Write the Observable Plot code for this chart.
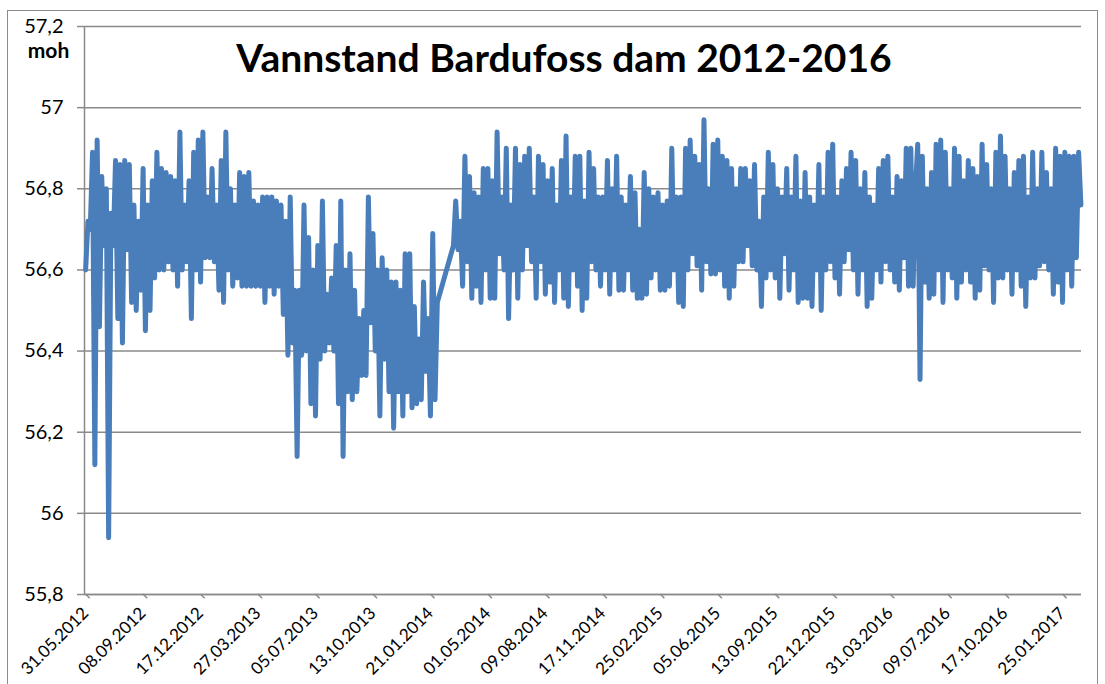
<!DOCTYPE html>
<html><head><meta charset="utf-8">
<script src="https://cdn.jsdelivr.net/npm/d3@7"></script>
<script src="https://cdn.jsdelivr.net/npm/@observablehq/plot@0.6"></script>
<style>
body{margin:0;background:#fff;}
#wrap{position:relative;width:1105px;height:684px;overflow:hidden;}
#frame{position:absolute;left:7px;top:10px;width:1089px;height:700px;border:1.5px solid #8c8c8c;}
#chart{position:absolute;left:0;top:0;}
</style></head><body>
<div id="wrap"><div id="frame"></div><div id="chart"></div></div>
<script>
// ---- data (water level, m o.h., one reading every 4 days) ----
const title = "Vannstand Bardufoss dam 2012-2016";
const unitLabel = "moh";
const stepDays = 4;
const startBeforeGap = "02.06.2012";
const levels2012 = [
 56.60,56.72,56.70,56.89,56.12,56.92,56.46,56.83,56.66,56.80,
 55.94,56.74,56.66,56.87,56.48,56.86,56.42,56.87,56.65,56.86,
 56.52,56.76,56.50,56.72,56.55,56.85,56.45,56.76,56.50,56.82,
 56.58,56.89,56.60,56.85,56.60,56.84,56.62,56.83,56.60,56.82,
 56.56,56.94,56.60,56.76,56.62,56.82,56.48,56.89,56.60,56.92,
 56.57,56.94,56.63,56.78,56.63,56.85,56.62,56.76,56.55,56.87,
 56.52,56.94,56.60,56.80,56.56,56.76,56.58,56.84,56.56,56.83];
const levels2013 = [
 56.56,56.84,56.56,56.77,56.56,56.76,56.56,56.78,56.52,56.78,
 56.56,56.78,56.54,56.77,56.56,56.76,56.49,56.72,56.39,56.78,
 56.42,56.55,56.14,56.55,56.39,56.76,56.40,56.68,56.27,56.60,
 56.24,56.66,56.38,56.77,56.40,56.54,56.42,56.58,56.40,56.66,
 56.27,56.77,56.14,56.60,56.30,56.64,56.28,56.55,56.30,56.48,
 56.34,56.50,56.34,56.78,56.47,56.69,56.40,56.60,56.24,56.63,
 56.38,56.60,56.30,56.57,56.21,56.57,56.30,56.55,56.24,56.64,
 56.30,56.64,56.26,56.51,56.27,56.43,56.28,56.57,56.35,56.48,
 56.24,56.69,56.28,56.52];
const startAfterGap = "04.03.2014";
const levels2014_15 = [
 56.66,56.77,56.65,56.72,56.56,56.88,56.62,56.83,56.53,56.79,
 56.56,56.78,56.52,56.85,56.60,56.85,56.53,56.82,56.53,56.94,
 56.64,56.78,56.60,56.90,56.48,56.76,56.60,56.90,56.53,56.86,
 56.60,56.88,56.66,56.90,56.62,56.78,56.53,56.88,56.62,56.86,
 56.54,56.82,56.57,56.85,56.52,56.76,56.60,56.87,56.53,56.93,
 56.51,56.78,56.60,56.88,56.56,56.88,56.50,56.77,56.53,56.89,
 56.62,56.85,56.60,56.78,56.56,56.78,56.60,56.87,56.54,56.80,
 56.60,56.88,56.55,56.78,56.55,56.76,56.60,56.83,56.55,56.79,
 56.53,56.70,56.53,56.84,56.54,56.80,56.58,56.78,56.60,56.79,
 56.55,56.76,56.55,56.77,56.56,56.90,56.60,56.78,56.52,56.78,
 56.51,56.90,56.60,56.92,56.64,56.88,56.61,56.86,56.55,56.97,
 56.62,56.80,56.59,56.91,56.59,56.92,56.60,56.88,56.56,56.87,
 56.53,56.85,56.56,56.80,56.62,56.85,56.62,56.85];
const levels2016_17 = [
 56.66,56.82,56.61,56.86,56.60,56.72,56.51,56.78,56.58,56.89,
 56.60,56.86,56.58,56.80,56.53,56.78,56.64,56.85,56.55,56.78,
 56.60,56.88,56.52,56.77,56.53,56.84,56.53,56.78,56.51,56.76,
 56.60,56.86,56.50,56.78,56.60,56.89,56.62,56.91,56.58,56.78,
 56.54,56.82,56.62,56.85,56.65,56.89,56.60,56.87,56.54,56.80,
 56.60,56.84,56.51,56.78,56.53,56.76,56.60,56.85,56.57,56.87,
 56.62,56.88,56.60,56.78,56.57,56.83,56.55,56.82,56.63,56.90,
 56.56,56.90,56.56,56.80,56.91,
 56.33,56.88,56.57,56.80,56.53,56.84,56.54,56.91,56.60,56.92,
 56.52,56.89,56.60,56.80,56.58,56.90,56.53,56.88,56.57,56.82,
 56.60,56.87,56.57,56.85,56.53,56.83,56.55,56.91,56.61,56.86,
 56.60,56.80,56.52,56.89,56.58,56.93,56.58,56.88,56.60,56.80,
 56.54,56.84,56.60,56.87,56.56,56.88,56.51,56.78,56.58,56.89,
 56.58,56.80,56.61,56.89,56.62,56.84,56.60,56.80,56.54,56.90,
 56.57,56.88,56.52,56.89,56.60,56.88,56.56,56.88,56.63,56.89,56.76];
const xTickLabels = ["31.05.2012","08.09.2012","17.12.2012","27.03.2013","05.07.2013","13.10.2013","21.01.2014","01.05.2014","09.08.2014","17.11.2014","25.02.2015","05.06.2015","13.09.2015","22.12.2015","31.03.2016","09.07.2016","17.10.2016","25.01.2017"];
const xDomain = ["31.05.2012","01.03.2017"];
const yTicks = [55.8,56.0,56.2,56.4,56.6,56.8,57.0,57.2];

// ---- build table ----
const parse = d3.utcParse("%d.%m.%Y");
const fmtDate = d3.utcFormat("%d.%m.%Y");
const data = [];
function addSeries(start, arrays){
  const s = parse(start); let k = 0;
  for (const arr of arrays) for (const v of arr) { data.push({date: d3.utcDay.offset(s, stepDays*k), level: v}); k++; }
}
addSeries(startBeforeGap, [levels2012, levels2013]);
addSeries(startAfterGap, [levels2014_15, levels2016_17]);
const xTicks = xTickLabels.map(parse);
const gray = "#8a8a8a";

const chart = Plot.plot({
  width: 1105, height: 684,
  marginLeft: 84, marginRight: 24, marginTop: 26, marginBottom: 90,
  style: {fontFamily: "Lato, 'Open Sans', sans-serif", background: "transparent", color: "#000"},
  x: {type: "utc", domain: xDomain.map(parse)},
  y: {domain: [55.8, 57.2]},
  marks: [
    Plot.gridY(yTicks, {stroke: gray, strokeOpacity: 1, strokeWidth: 1.5}),
    Plot.ruleX([parse(xDomain[0])], {stroke: gray, strokeWidth: 1.5}),
    Plot.ruleY([55.8], {stroke: gray, strokeWidth: 1.5}),
    Plot.axisY(yTicks, {tickSize: 7, tickPadding: 14, fontSize: 20, stroke: gray, strokeWidth: 1.5, fill: "#000", label: null,
      tickFormat: d => String(Math.round(d * 10) / 10).replace(".", ",")}),
    Plot.axisX(xTicks, {tickSize: 6, tickPadding: 10, rotate: -45, textAnchor: "end", lineAnchor: "middle", dx: 1,
      fontSize: 17, stroke: gray, strokeWidth: 1.5, fill: "#000", label: null, tickFormat: fmtDate}),
    Plot.line(data, {x: "date", y: "level", stroke: "#4a7ebb", strokeWidth: 5, strokeLinejoin: "round", strokeLinecap: "round"}),
    Plot.text([title], {frameAnchor: "top", dx: -19, dy: 45, lineAnchor: "bottom", fontSize: 39, fontWeight: "bold", fill: "#000"}),
    Plot.text([unitLabel], {frameAnchor: "top-left", dx: -36, dy: 31, lineAnchor: "bottom", textAnchor: "middle", fontSize: 21, fontWeight: "bold", fill: "#000"})
  ]
});
document.getElementById("chart").appendChild(chart);
</script></body></html>
